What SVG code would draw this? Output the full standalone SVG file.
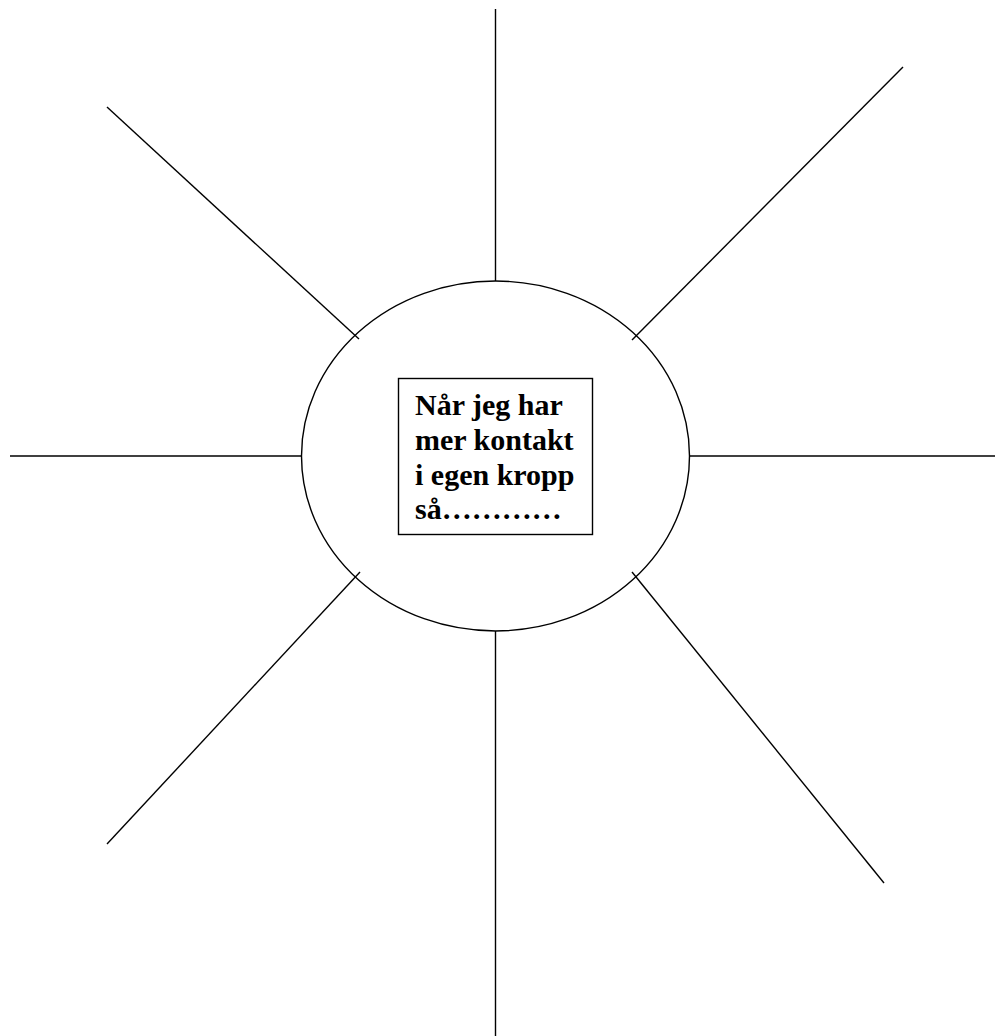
<svg xmlns="http://www.w3.org/2000/svg" width="995" height="1036" viewBox="0 0 995 1036">
<style>
.ln{stroke:#000;stroke-width:1.4;fill:none}
.lbl{font-family:"Liberation Serif","Times New Roman",serif;font-weight:bold;font-size:30px;fill:#000}
</style>
<rect width="995" height="1036" fill="#fff"/>
<g id="connectors">
<line class="ln" x1="495.5" y1="9" x2="495.5" y2="281"/>
<line class="ln" x1="495.5" y1="631" x2="495.5" y2="1036"/>
<line class="ln" x1="10" y1="456" x2="302" y2="456"/>
<line class="ln" x1="689" y1="456" x2="995" y2="456"/>
<line class="ln" x1="107" y1="107" x2="359" y2="339"/>
<line class="ln" x1="903" y1="67" x2="632" y2="340"/>
<line class="ln" x1="360" y1="572" x2="107" y2="844"/>
<line class="ln" x1="632" y1="572" x2="884" y2="883"/>
</g>
<g id="hub">
<ellipse class="ln" cx="495.5" cy="456" rx="194" ry="175"/>
</g>
<g id="label">
<rect x="398.5" y="378.5" width="194" height="156" fill="#fff" stroke="#000" stroke-width="1.4"/>
<text class="lbl" x="415" y="415">Når jeg har</text>
<text class="lbl" x="415" y="450">mer kontakt</text>
<text class="lbl" x="415" y="485">i egen kropp</text>
<text class="lbl" x="415" y="519">så…………</text>
</g>
</svg>
